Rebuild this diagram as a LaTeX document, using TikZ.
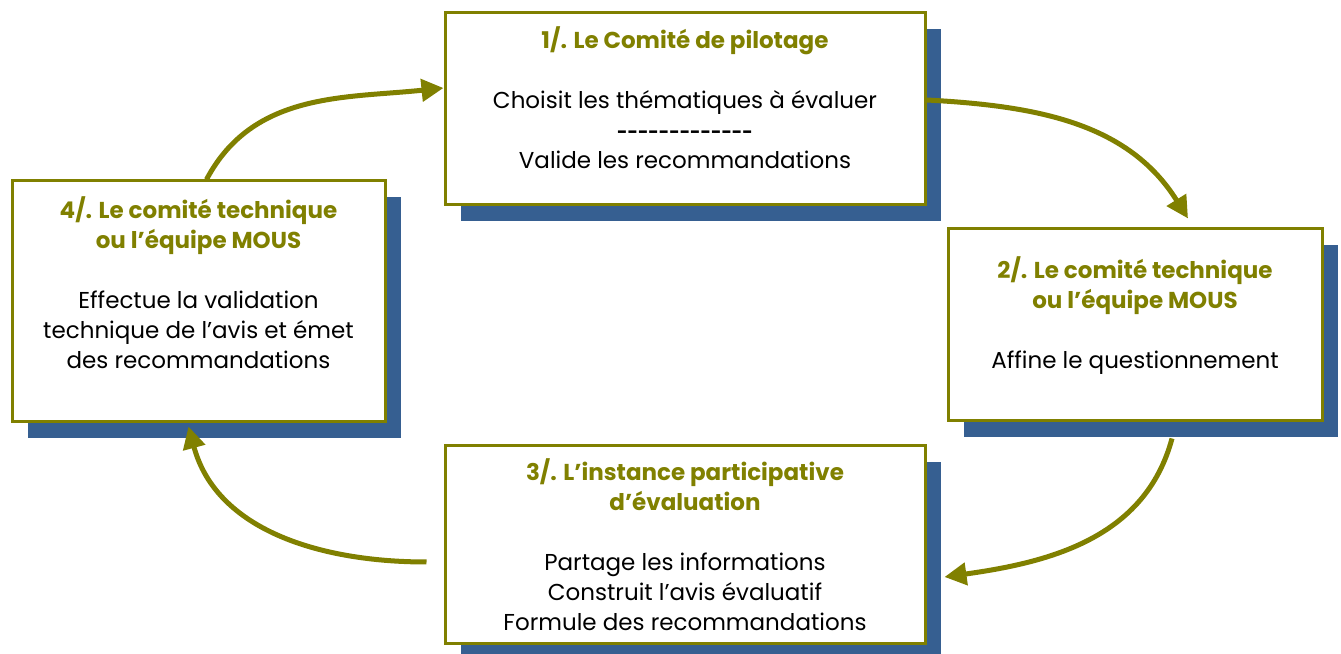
\documentclass[tikz,border=0pt]{standalone}
\usepackage{fontspec}
\setmainfont{Poppins}
\definecolor{olivegreen}{HTML}{808000}
\definecolor{shadowblue}{HTML}{365F91}
\usetikzlibrary{arrows.meta, shadows}
\tikzset{
  stepbox/.style={
    rectangle, draw=olivegreen, fill=white, line width=1.5pt,
    drop shadow={shadow xshift=8pt, shadow yshift=-8pt, fill=shadowblue, opacity=1}
  },
  steptext/.style={
    align=center, inner sep=0pt, font=\fontsize{11.5}{15}\selectfont
  },
  cycle/.style={
    draw=olivegreen, line width=2.5pt, -{Triangle[length=11pt, width=11pt]}
  }
}
\newcommand{\steptitle}[1]{\textcolor{olivegreen}{\bfseries #1}}

\begin{document}
\begin{tikzpicture}[x=0.5pt, y=0.5pt]
        \useasboundingbox (0,0) rectangle (1341,654);

        \node[stepbox, minimum width=240pt, minimum height=96pt] (b1) at (685,545) {};
        \node[stepbox, minimum width=187pt, minimum height=96pt] (b2) at (1135,329) {};
        \node[stepbox, minimum width=240pt, minimum height=99pt] (b3) at (685,109) {};
        \node[stepbox, minimum width=186.5pt, minimum height=120.5pt] (b4) at (198.5,352.5) {};

        \node[steptext] (t1) at (685,556) {\steptitle{1/. Le Comité de pilotage}\\[15pt]
          Choisit les thématiques à évaluer\\
          {\fontsize{9}{15}\selectfont\bfseries -{}-{}-{}-{}-{}-{}-{}-{}-{}-{}-{}-{}-}\\
          Valide les recommandations};
        \node[steptext] (t2) at (1135,338) {\steptitle{2/. Le comité technique}\\ \steptitle{ou l’équipe MOUS}\\[15pt]
          Affine le questionnement};
        \node[steptext] (t3) at (685,109) {\steptitle{3/. L’instance participative}\\ \steptitle{d’évaluation}\\[15pt]
          Partage les informations\\ Construit l’avis évaluatif\\ Formule des recommandations};
        \node[steptext] (t4) at (198.5,371) {\steptitle{4/. Le comité technique}\\ \steptitle{ou l’équipe MOUS}\\[15pt]
          Effectue la validation\\ technique de l’avis et émet\\ des recommandations};

        \draw[cycle] ([xshift=4pt]b4.north) to[out=62, in=186] ([yshift=10.5pt]b1.west);
        \draw[cycle] ([yshift=4.5pt]b1.east) to[out=-3, in=122] ([xshift=26.5pt, yshift=4.5pt]b2.north);
        \draw[cycle] ([xshift=18.5pt, yshift=-8pt]b2.south) to[out=-105, in=8] ([xshift=9pt, yshift=-16pt]b3.east);
        \draw[cycle] ([xshift=-8.5pt, yshift=-8.5pt]b3.west) to[out=180, in=-75] ([xshift=-5pt, yshift=-1.5pt]b4.south);
      \end{tikzpicture}
\end{document}
